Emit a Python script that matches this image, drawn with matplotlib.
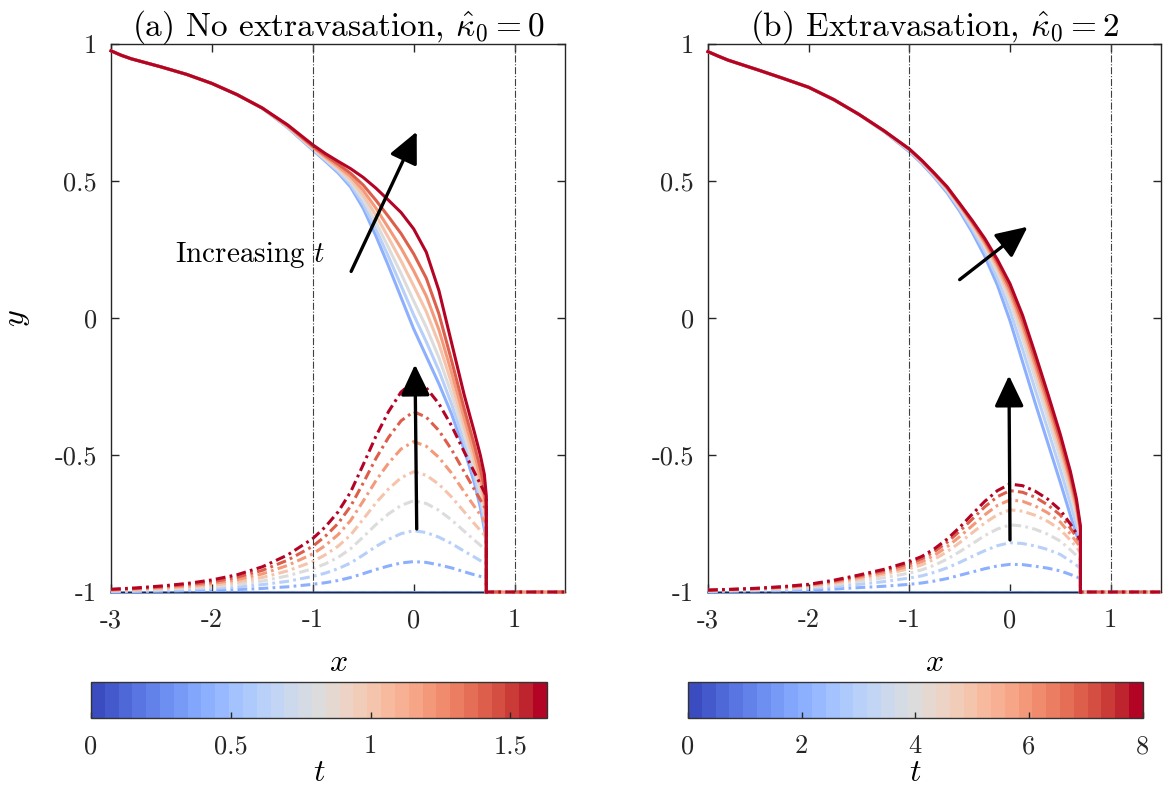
import numpy as np
import matplotlib.pyplot as plt
from matplotlib.colors import ListedColormap, Normalize
from matplotlib.cm import ScalarMappable

plt.rcParams['font.family'] = 'serif'
plt.rcParams['font.serif'] = ['cmr10', 'DejaVu Serif']
plt.rcParams['mathtext.fontset'] = 'cm'
plt.rcParams['axes.unicode_minus'] = False

# ---- panel (a): no extravasation ----
t_a = [0.41, 0.61, 0.82, 1.02, 1.22, 1.43, 1.63]
tmax_a = 1.63
front_a = 0.72

# upper surface: shared start, then one tail per time
xs_head_a = [-3, -2.9, -2.8, -2.7, -2.6, -2.5, -2.25, -2, -1.75, -1.5]
ys_head_a = [0.975, 0.959, 0.946, 0.936, 0.926, 0.916, 0.889, 0.856, 0.815, 0.766]
xs_tail_a = [-1.25, -1, -0.875, -0.75, -0.625, -0.5, -0.375, -0.25, -0.125, 0,
             0.125, 0.25, 0.375, 0.5, 0.6, 0.66, 0.70, 0.72]
ys_tail_a = [
    [0.695, 0.613, 0.572, 0.53, 0.478, 0.40, 0.30, 0.19, 0.075, -0.04,
     -0.14, -0.24, -0.35, -0.48, -0.60, -0.69, -0.77, -0.83],
    [0.696, 0.616, 0.576, 0.536, 0.487, 0.416, 0.324, 0.224, 0.118, 0.011,
     -0.087, -0.192, -0.314, -0.452, -0.574, -0.663, -0.742, -0.805],
    [0.698, 0.618, 0.58, 0.542, 0.497, 0.432, 0.349, 0.257, 0.162, 0.062,
     -0.034, -0.145, -0.277, -0.424, -0.548, -0.637, -0.714, -0.78],
    [0.699, 0.621, 0.584, 0.548, 0.507, 0.449, 0.375, 0.293, 0.208, 0.117,
     0.023, -0.094, -0.238, -0.394, -0.52, -0.608, -0.684, -0.753],
    [0.701, 0.624, 0.588, 0.554, 0.517, 0.466, 0.401, 0.329, 0.255, 0.172,
     0.08, -0.043, -0.199, -0.364, -0.493, -0.58, -0.654, -0.726],
    [0.703, 0.627, 0.593, 0.562, 0.528, 0.485, 0.43, 0.37, 0.308, 0.234,
     0.145, 0.015, -0.155, -0.33, -0.461, -0.548, -0.62, -0.695],
    [0.705, 0.632, 0.60, 0.572, 0.545, 0.513, 0.474, 0.43, 0.385, 0.325,
     0.24, 0.10, -0.09, -0.28, -0.415, -0.50, -0.57, -0.65],
]

# lower curve (dash-dot)
xs_low_a = [-3, -2.75, -2.5, -2.25, -2, -1.75, -1.5, -1.25, -1, -0.875, -0.75, -0.625,
            -0.5, -0.375, -0.25, -0.125, 0, 0.125, 0.25, 0.375, 0.5, 0.6, 0.69, 0.72]
ys_low_a = [
    [-0.999, -0.998, -0.997, -0.995, -0.994, -0.991, -0.987, -0.981, -0.972, -0.966, -0.958, -0.947,
     -0.933, -0.918, -0.905, -0.894, -0.889, -0.892, -0.901, -0.912, -0.926, -0.937, -0.946, -0.949],
    [-0.997, -0.996, -0.994, -0.991, -0.987, -0.982, -0.973, -0.961, -0.943, -0.931, -0.915, -0.894,
     -0.865, -0.834, -0.808, -0.787, -0.776, -0.783, -0.80, -0.823, -0.851, -0.872, -0.892, -0.898],
    [-0.996, -0.993, -0.99, -0.986, -0.981, -0.973, -0.96, -0.941, -0.915, -0.897, -0.874, -0.842,
     -0.799, -0.754, -0.715, -0.684, -0.667, -0.677, -0.702, -0.737, -0.778, -0.81, -0.839, -0.848],
    [-0.994, -0.991, -0.987, -0.982, -0.975, -0.964, -0.947, -0.923, -0.889, -0.864, -0.833, -0.792,
     -0.734, -0.675, -0.624, -0.583, -0.561, -0.574, -0.607, -0.653, -0.707, -0.75, -0.788, -0.80],
    [-0.993, -0.989, -0.984, -0.978, -0.969, -0.955, -0.934, -0.903, -0.861, -0.83, -0.791, -0.739,
     -0.668, -0.594, -0.53, -0.478, -0.451, -0.468, -0.509, -0.566, -0.634, -0.687, -0.734, -0.75],
    [-0.991, -0.987, -0.981, -0.973, -0.963, -0.946, -0.921, -0.884, -0.833, -0.796, -0.75, -0.687,
     -0.602, -0.513, -0.436, -0.375, -0.342, -0.362, -0.411, -0.48, -0.561, -0.625, -0.682, -0.70],
    [-0.99, -0.985, -0.978, -0.969, -0.956, -0.937, -0.908, -0.865, -0.805, -0.762, -0.708, -0.635,
     -0.535, -0.432, -0.342, -0.27, -0.232, -0.255, -0.313, -0.393, -0.488, -0.562, -0.628, -0.65],
]

# ---- panel (b): extravasation ----
t_b = [2, 3, 4, 5, 6, 7, 8]
tmax_b = 8
front_b = 0.70

xs_head_b = [-3, -2.9, -2.8, -2.7, -2.6, -2.5, -2.25, -2, -1.75, -1.5]
ys_head_b = [0.972, 0.956, 0.941, 0.929, 0.917, 0.905, 0.874, 0.842, 0.797, 0.743]
xs_tail_b = [-1.25, -1, -0.875, -0.75, -0.625, -0.5, -0.375, -0.25, -0.125, 0,
             0.125, 0.25, 0.375, 0.5, 0.6, 0.66, 0.70]
ys_tail_b = [
    [0.68, 0.607, 0.563, 0.513, 0.457, 0.39, 0.313, 0.225, 0.12, -0.01,
     -0.16, -0.31, -0.455, -0.60, -0.72, -0.79, -0.83],
    [0.681, 0.61, 0.566, 0.517, 0.463, 0.398, 0.325, 0.243, 0.145, 0.027,
     -0.114, -0.261, -0.406, -0.553, -0.677, -0.755, -0.811],
    [0.682, 0.612, 0.569, 0.521, 0.468, 0.404, 0.335, 0.258, 0.167, 0.058,
     -0.075, -0.22, -0.365, -0.513, -0.64, -0.725, -0.795],
    [0.682, 0.614, 0.571, 0.523, 0.472, 0.409, 0.342, 0.269, 0.182, 0.081,
     -0.046, -0.189, -0.334, -0.483, -0.613, -0.703, -0.783],
    [0.682, 0.615, 0.572, 0.525, 0.474, 0.412, 0.347, 0.276, 0.193, 0.095,
     -0.027, -0.17, -0.315, -0.464, -0.595, -0.689, -0.775],
    [0.683, 0.616, 0.574, 0.526, 0.477, 0.415, 0.351, 0.283, 0.203, 0.11,
     -0.009, -0.15, -0.295, -0.444, -0.578, -0.674, -0.768],
    [0.683, 0.617, 0.575, 0.528, 0.479, 0.418, 0.356, 0.29, 0.213, 0.125,
     0.01, -0.13, -0.275, -0.425, -0.56, -0.66, -0.76],
]

xs_low_b = [-3, -2.75, -2.5, -2.25, -2, -1.75, -1.5, -1.25, -1, -0.875, -0.75, -0.625,
            -0.5, -0.375, -0.25, -0.125, 0, 0.125, 0.25, 0.375, 0.5, 0.6, 0.67, 0.70]
ys_low_b = [
    [-0.998, -0.997, -0.996, -0.995, -0.993, -0.989, -0.984, -0.979, -0.972, -0.967, -0.96, -0.951,
     -0.939, -0.927, -0.915, -0.905, -0.899, -0.90, -0.906, -0.913, -0.923, -0.936, -0.946, -0.952],
    [-0.997, -0.995, -0.994, -0.991, -0.987, -0.981, -0.972, -0.962, -0.949, -0.941, -0.928, -0.912,
     -0.892, -0.87, -0.849, -0.831, -0.82, -0.823, -0.832, -0.845, -0.863, -0.887, -0.905, -0.915],
    [-0.996, -0.994, -0.991, -0.988, -0.982, -0.974, -0.961, -0.948, -0.931, -0.919, -0.902, -0.88,
     -0.853, -0.824, -0.794, -0.77, -0.755, -0.759, -0.771, -0.789, -0.814, -0.846, -0.87, -0.884],
    [-0.995, -0.992, -0.989, -0.985, -0.978, -0.968, -0.953, -0.936, -0.915, -0.901, -0.88, -0.853,
     -0.82, -0.784, -0.748, -0.718, -0.70, -0.705, -0.72, -0.742, -0.772, -0.811, -0.841, -0.858],
    [-0.994, -0.991, -0.988, -0.983, -0.976, -0.964, -0.947, -0.929, -0.905, -0.889, -0.866, -0.835,
     -0.798, -0.758, -0.718, -0.684, -0.664, -0.669, -0.686, -0.711, -0.745, -0.788, -0.822, -0.84],
    [-0.993, -0.99, -0.987, -0.982, -0.973, -0.96, -0.942, -0.922, -0.896, -0.878, -0.852, -0.819,
     -0.778, -0.734, -0.689, -0.652, -0.63, -0.636, -0.654, -0.682, -0.719, -0.767, -0.804, -0.824],
    [-0.993, -0.99, -0.986, -0.98, -0.972, -0.957, -0.938, -0.917, -0.889, -0.87, -0.842, -0.807,
     -0.764, -0.716, -0.669, -0.63, -0.606, -0.612, -0.632, -0.661, -0.701, -0.752, -0.791, -0.813],
]

xticks = [-3, -2, -1, 0, 1]
xticklabels = ['-3', '-2', '-1', '0', '1']
yticks = [-1, -0.5, 0, 0.5, 1]
yticklabels = ['-1', '-0.5', '0', '0.5', '1']
cb_ticks_a = [0, 0.5, 1, 1.5]
cb_labels_a = ['0', '0.5', '1', '1.5']
cb_ticks_b = [0, 2, 4, 6, 8]
cb_labels_b = ['0', '2', '4', '6', '8']

XMIN, XMAX = -3, 1.5
cmap = plt.cm.coolwarm
cmap_steps = ListedColormap(cmap(np.linspace(0, 1, 33)))
DASHDOT = (3.2, 1.4, 0.9, 1.4)
SPINE = '#262626'
LW = 2.2


def draw_panel(ax, times, tmax, front, xh, yh, xt, yt_rows, xl, yl_rows):
    norm = Normalize(0, tmax)
    # base of the layer
    ax.plot([XMIN, front], [-1, -1], color=cmap(norm(times[0])), lw=LW, zorder=2,
            clip_on=False)
    for t, yt, yl in zip(times, yt_rows, yl_rows):
        c = cmap(norm(t))
        xu = list(xh) + list(xt) + [front]
        yu = list(yh) + list(yt) + [-1]
        ax.plot(xu, yu, color=c, lw=LW, solid_joinstyle='round', zorder=3, clip_on=False)
        xd = list(xl) + [front, XMAX]
        yd = list(yl) + [-1, -1]
        ax.plot(xd, yd, color=c, lw=LW, dashes=DASHDOT, zorder=3, clip_on=False)
    for xv in (-1, 1):
        ax.axvline(xv, color='0.25', lw=0.8, ls='-.', zorder=4)
    ax.axhline(-1, color='0.15', lw=0.8, ls='-.', zorder=4)

    ax.set_xlim(XMIN, XMAX)
    ax.set_ylim(-1, 1)
    ax.set_xticks(xticks, xticklabels)
    ax.set_yticks(yticks, yticklabels)
    ax.tick_params(direction='in', length=6, width=1, colors=SPINE, labelcolor='#262626',
                   labelsize=19, top=True, right=True)
    ax.tick_params(axis='x', pad=12)
    ax.tick_params(axis='y', pad=10)
    for s in ax.spines.values():
        s.set_color(SPINE)
        s.set_linewidth(1.0)
    ax.set_xlabel('$x$', fontsize=23, labelpad=12)


def arrow(ax, tail, head):
    ax.annotate('', xy=head, xytext=tail,
                arrowprops=dict(arrowstyle='-|>,head_length=0.95,head_width=0.45',
                                color='k', lw=2.4, mutation_scale=20,
                                shrinkA=0, shrinkB=0),
                zorder=6)


def colorbar(fig, rect, tmax, ticks, labels):
    cax = fig.add_axes(rect)
    sm = ScalarMappable(norm=Normalize(0, tmax), cmap=cmap_steps)
    cb = fig.colorbar(sm, cax=cax, orientation='horizontal')
    cb.set_ticks(ticks, labels=labels)
    cax.tick_params(direction='in', length=4, width=1, colors=SPINE, labelsize=19, pad=12)
    cb.outline.set_edgecolor('#333333')
    cb.outline.set_linewidth(1.0)
    cb.set_label('$t$', fontsize=23, labelpad=1)


fig = plt.figure(figsize=(11.66, 7.94), dpi=100)
ax1 = fig.add_axes([0.0952, 0.2544, 0.3894, 0.6902])
ax2 = fig.add_axes([0.6072, 0.2544, 0.3885, 0.6902])

draw_panel(ax1, t_a, tmax_a, front_a, xs_head_a, ys_head_a, xs_tail_a, ys_tail_a,
           xs_low_a, ys_low_a)
draw_panel(ax2, t_b, tmax_b, front_b, xs_head_b, ys_head_b, xs_tail_b, ys_tail_b,
           xs_low_b, ys_low_b)

ax1.set_title(r'(a) No extravasation, $\hat{\kappa}_0 = 0$', fontsize=24, pad=6)
ax2.set_title(r'(b) Extravasation, $\hat{\kappa}_0 = 2$', fontsize=24, pad=6)
ax1.set_ylabel('$y$', fontsize=23, labelpad=16)

arrow(ax1, (-0.62, 0.17), (0.03, 0.68))
arrow(ax1, (0.03, -0.77), (0.013, -0.17))
ax1.text(-2.37, 0.23, r'Increasing $t$', fontsize=21, ha='left', va='center')
arrow(ax2, (-0.50, 0.14), (0.175, 0.333))
arrow(ax2, (0.0, -0.81), (-0.01, -0.21))

colorbar(fig, [0.078, 0.0957, 0.391, 0.0453], tmax_a, cb_ticks_a, cb_labels_a)
colorbar(fig, [0.590, 0.0957, 0.390, 0.0453], tmax_b, cb_ticks_b, cb_labels_b)

fig.savefig('out.png', dpi=100)
